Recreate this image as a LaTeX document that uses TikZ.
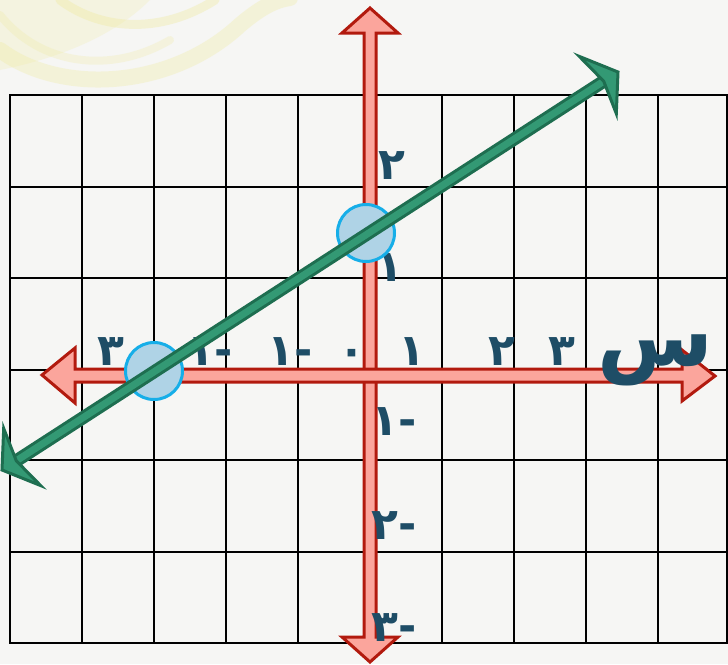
\documentclass[tikz,border=0pt]{standalone}
\usepackage{fontspec}
\newfontfamily\arabicfont[Script=Arabic]{DejaVu Sans}
\definecolor{bgc}{HTML}{F6F6F4}
\definecolor{swirl}{HTML}{EFEA9A}
\definecolor{pinkc}{HTML}{FBA59C}
\definecolor{redc}{HTML}{B21A0E}
\definecolor{gmid}{HTML}{339974}
\definecolor{gdark}{HTML}{1E6E50}
\definecolor{cfill}{HTML}{AFD3E6}
\definecolor{cedge}{HTML}{16AEE8}
\definecolor{lblc}{HTML}{1E4D66}
\begin{document}
\begin{tikzpicture}[x=1pt,y=-1pt,
  lbl/.style={text=lblc, font=\arabicfont\bfseries\fontsize{44}{44}\selectfont, inner sep=0pt},
  bigl/.style={text=lblc, font=\arabicfont\bfseries\fontsize{84}{84}\selectfont, inner sep=0pt},
  gridl/.style={line width=2.8pt, black},
  axisarrow/.style={fill=pinkc, draw=redc, line width=3pt, line join=miter},
  circ/.style={circle, minimum size=57pt, inner sep=0pt, fill=cfill, draw=cedge, line width=3pt},
  ghead/.style={fill=gmid, draw=gdark, line width=3pt, line join=miter}]
\useasboundingbox (0,0) rectangle (728,664);
\fill[bgc] (0,0) rectangle (728,664);
% yellow swirl in the top-left corner
\begin{scope}[swirl, line cap=round]
  \fill[opacity=0.22] (0,0) -- (150,0) .. controls (110,40) and (50,60) .. (0,70) -- cycle;
  \draw[opacity=0.3, line width=16pt] (0,50) .. controls (60,95) and (170,90) .. (240,25) .. controls (260,8) and (275,0) .. (290,-2);
  \draw[opacity=0.35, line width=9pt] (60,0) .. controls (100,30) and (160,35) .. (215,0);
  \draw[opacity=0.25, line width=8pt] (0,15) .. controls (40,65) and (110,75) .. (170,40);
\end{scope}
% grid
\draw[gridl] (10,95) rectangle (727,643);
\foreach \gx in {82,154,226,298,370,442,514,586,658}
  \draw[gridl] (\gx,95) -- (\gx,643);
\foreach \gy in {187,278,370,460,552}
  \draw[gridl] (10,\gy) -- (727,\gy);
% vertical axis
\coordinate (ytop) at (370,8);
\coordinate (ybot) at (370,662);
\draw[axisarrow] (ytop) -- ++(28,25) -- ++(-22,0) -- ++(0,604) -- ++(22,0)
  -- (ybot) -- ++(-28,-25) -- ++(22,0) -- ++(0,-604) -- ++(-22,0) -- cycle;
% horizontal axis
\coordinate (xleft) at (42,375);
\coordinate (xright) at (715,376);
\draw[axisarrow] (xleft) -- ++(33,-27) -- ++(0,21) -- ++(607,0) -- ++(0,-19)
  -- (xright) -- ++(-33,25) -- ++(0,-19) -- ++(-607,0) -- ++(0,21) -- cycle;
% labels on the x axis
\node[lbl] (lx3n) at (111,352) {٣};
\node[lbl] (lx2n) at (210,352) {-١};
\node[lbl] (lx1n) at (290,352) {-١};
\node[lbl] (lx0) at (352,357) {٠};
\node[lbl] (lx1) at (412,352) {١};
\node[lbl] (lx2) at (502,352) {٢};
\node[lbl] (lx3) at (562,352) {٣};
\node[bigl] (lxs) at (655,360) {س};
% labels on the y axis
\node[lbl] (ly2) at (392,166) {٢};
\node[lbl] (ly1) at (390,268) {١};
\node[lbl] (ly1n) at (394,422) {-١};
\node[lbl] (ly2n) at (394,526) {-٢};
\node[lbl] (ly3n) at (394,628) {-٣};
% points
\node[circ] (p1) at (154,371) {};
\node[circ] (p2) at (366,233) {};
% green line with arrow heads
\coordinate (gtip) at (618,72);
\coordinate (gnotch) at (603.7,81.2);
\coordinate (stip) at (2,470);
\coordinate (snotch) at (16.3,460.8);
\draw[gdark, line width=13pt] (snotch) -- (gnotch);
\draw[gmid, line width=7pt] (snotch) -- (gnotch);
\draw[ghead] (gtip) -- (579.3,56.4) -- (gnotch) -- (616.3,113.6) -- cycle;
\draw[ghead] (stip) -- (3.7,428.4) -- (snotch) -- (40.7,485.6) -- cycle;
\end{tikzpicture}
\end{document}
